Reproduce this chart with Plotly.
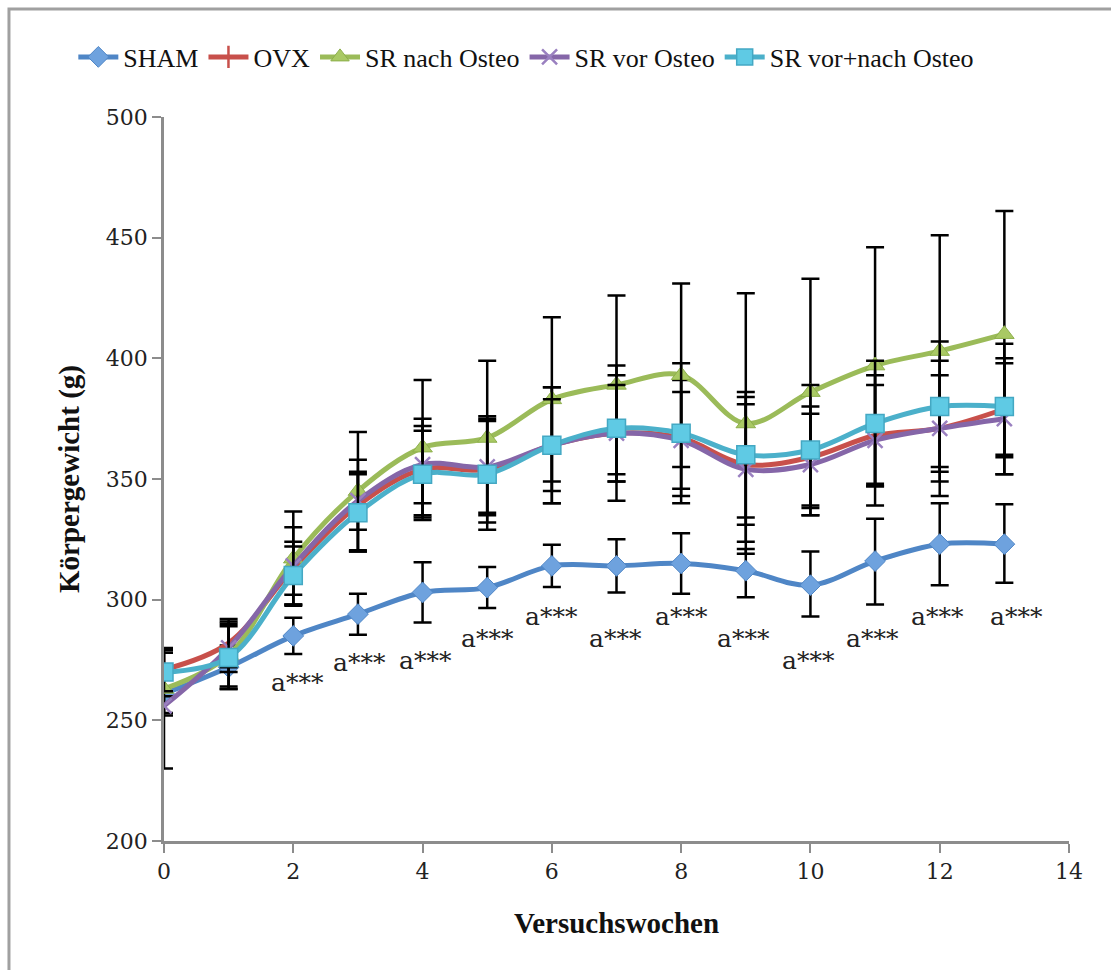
import plotly.graph_objects as go

weeks = list(range(14))

sham = [261, 272, 285, 294, 303, 305, 314, 314, 315, 312, 306, 316, 323, 323]
ovx = [271, 282, 313, 339, 354, 354, 364, 369, 367, 356, 359, 368, 371, 379]
sr_nach = [263, 277, 317, 345, 363, 367, 383, 389, 393, 373, 386, 397, 403, 410]
sr_vor = [256, 280, 314, 341, 356, 355, 364, 369, 366, 354, 356, 366, 371, 375]
sr_vor_nach = [270, 276, 310, 336, 352, 352, 364, 371, 369, 360, 362, 373, 380, 380]

sham_err_up = [18, 9, 7.5, 8.5, 12.5, 8.5, 8.8, 11, 12.5, 9, 14, 17.5, 17, 16.5]
sham_err_dn = [31, 8, 7.5, 8.5, 12.5, 8.5, 8.8, 11, 12.5, 11, 13, 18, 17, 16]
ovx_err = [9, 10, 11, 19, 21, 22, 24, 28, 24, 25, 21, 21, 22, 27]
sr_nach_err = [10, 14, 19.5, 24.5, 28, 32, 34, 37, 38, 54, 47, 49, 48, 51]
sr_vor_err = [4, 10, 16, 12, 16, 19, 19, 20, 20, 30, 21, 27, 28, 23]
sr_vor_nach_err = [8, 13, 12, 16, 18, 23, 24, 22, 29, 26, 27, 26, 27, 20]

sig_label = "a***"
sig_x = [2.06, 3.03, 4.04, 5.0, 6.0, 6.98, 8.0, 8.96, 9.97, 10.96, 11.97, 13.19]
sig_y = [265.5, 274, 275, 284, 293, 284, 293, 284, 275, 284, 293, 293]

series = [
    ("SHAM", sham, sham_err_up, sham_err_dn, "#4F86C6",
     dict(symbol="diamond", size=16, color="#6EA2DE", line=dict(color="#4F86C6", width=1))),
    ("OVX", ovx, ovx_err, ovx_err, "#C8504B",
     dict(symbol="line-ns", size=16, color="#C8504B", line=dict(color="#C8504B", width=2.5))),
    ("SR nach Osteo", sr_nach, sr_nach_err, sr_nach_err, "#9BBB59",
     dict(symbol="triangle-up", size=17, color="#A9C964", line=dict(color="#8DAF4B", width=1))),
    ("SR vor Osteo", sr_vor, sr_vor_err, sr_vor_err, "#8566A8",
     dict(symbol="x-thin", size=15, color="#9A80C0", line=dict(color="#9A80C0", width=2.5))),
    ("SR vor+nach Osteo", sr_vor_nach, sr_vor_nach_err, sr_vor_nach_err, "#4BB0CA",
     dict(symbol="square", size=18, color="#5FCAE4", line=dict(color="#44A8C3", width=1.5))),
]

fig = go.Figure()
for name, vals, eu, ed, col, mk in series:
    fig.add_trace(go.Scatter(
        x=weeks, y=vals, name=name, mode="lines+markers",
        line=dict(color=col, width=5, shape="spline", smoothing=1.0),
        marker=mk,
        error_y=dict(type="data", array=eu, arrayminus=ed, symmetric=False,
                     color="black", thickness=2.5, width=9),
    ))

for sx, sy in zip(sig_x, sig_y):
    fig.add_annotation(x=sx, y=sy, text=sig_label, showarrow=False,
                       font=dict(family="DejaVu Serif", size=25, color="#222222"))

fig.add_shape(type="rect", xref="paper", yref="paper",
              x0=-0.1713, x1=1.06, y0=-0.2, y1=1.149,
              line=dict(color="#A0A0A0", width=3), fillcolor="rgba(0,0,0,0)", layer="below")

axis_common = dict(showline=True, linecolor="#8C8C8C", linewidth=2.5, ticks="outside",
                   ticklen=9, tickwidth=2, tickcolor="#8C8C8C", showgrid=False, zeroline=False,
                   tickfont=dict(family="DejaVu Serif", size=22, color="#222222"))

fig.update_layout(
    width=1111, height=970,
    margin=dict(l=164, r=42, t=117, b=129),
    paper_bgcolor="white", plot_bgcolor="white",
    showlegend=True,
    legend=dict(orientation="h", xref="container", yref="container",
                x=0.066, xanchor="left", y=1 - 57 / 970, yanchor="middle",
                font=dict(family="Liberation Serif", size=26, color="#111111"),
                itemwidth=40, tracegroupgap=0),
    xaxis=dict(range=[0, 14], dtick=2, tick0=0,
               title=dict(text="Versuchswochen", standoff=30,
                          font=dict(family="Liberation Serif", size=29, color="#111111", weight="bold")),
               **axis_common),
    yaxis=dict(range=[200, 500], dtick=50, tick0=200,
               title=dict(text="Körpergewicht (g)", standoff=18,
                          font=dict(family="Liberation Serif", size=29, color="#111111", weight="bold")),
               **axis_common),
)

fig.write_html("out.html")
